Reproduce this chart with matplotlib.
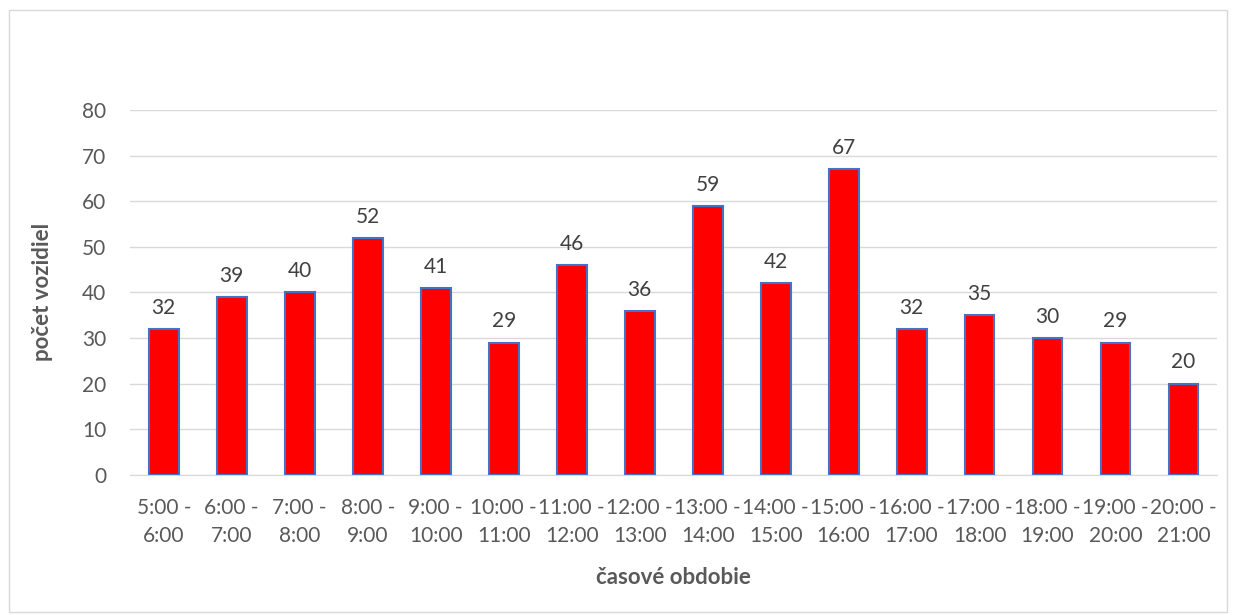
import matplotlib
matplotlib.use("Agg")
import matplotlib.pyplot as plt
from matplotlib.patches import Rectangle

plt.rcParams['font.family'] = ['Lato', 'DejaVu Sans']

start_hours = [5, 6, 7, 8, 9, 10, 11, 12, 13, 14, 15, 16, 17, 18, 19, 20]
categories = [f"{h}:00 -\n{h + 1}:00" for h in start_hours]
values = [32, 39, 40, 52, 41, 29, 46, 36, 59, 42, 67, 32, 35, 30, 29, 20]
y_ticks = [0, 10, 20, 30, 40, 50, 60, 70, 80]

text_color = '#595959'
fs = 15

fig = plt.figure(figsize=(12.36, 6.15), dpi=100)
fig.patches.append(Rectangle((0.007, 0.005), 0.986, 0.978, transform=fig.transFigure,
                             fill=False, edgecolor='#D9D9D9', linewidth=1))
ax = fig.add_axes([0.105, 0.228, 0.880, 0.593])

x = list(range(len(values)))
bars = ax.bar(x, values, width=0.44, color='#FF0000', edgecolor='#4472C4', linewidth=1.5, zorder=3)
for xi, v in zip(x, values):
    ax.annotate(str(v), (xi, v), xytext=(0, 8), textcoords='offset points',
                ha='center', va='bottom', fontsize=fs, color='#404040')

ax.set_ylim(0, 80)
ax.set_xlim(-0.5, len(values) - 0.5)
ax.set_yticks(y_ticks)
ax.set_xticks(x)
ax.set_xticklabels(categories, fontsize=fs, color=text_color, linespacing=1.5)
ax.tick_params(axis='y', labelsize=fs, labelcolor=text_color, length=0, pad=17)
ax.tick_params(axis='x', length=0, pad=17)
ax.yaxis.grid(True, color='#D9D9D9', linewidth=1, zorder=0)
for s in ['top', 'right', 'left']:
    ax.spines[s].set_visible(False)
ax.spines['bottom'].set_color('#D9D9D9')
ax.set_axisbelow(True)

ax.set_ylabel('počet vozidiel', fontsize=16, fontweight='bold', color=text_color)
ax.yaxis.set_label_coords(-0.08, 0.5)
ax.set_xlabel('časové obdobie', fontsize=16, fontweight='bold', color=text_color)
ax.xaxis.set_label_coords(0.5, -0.282)
ax.xaxis.label.set_va('center')
ax.yaxis.label.set_va('center')

fig.savefig('out.png', dpi=100)
